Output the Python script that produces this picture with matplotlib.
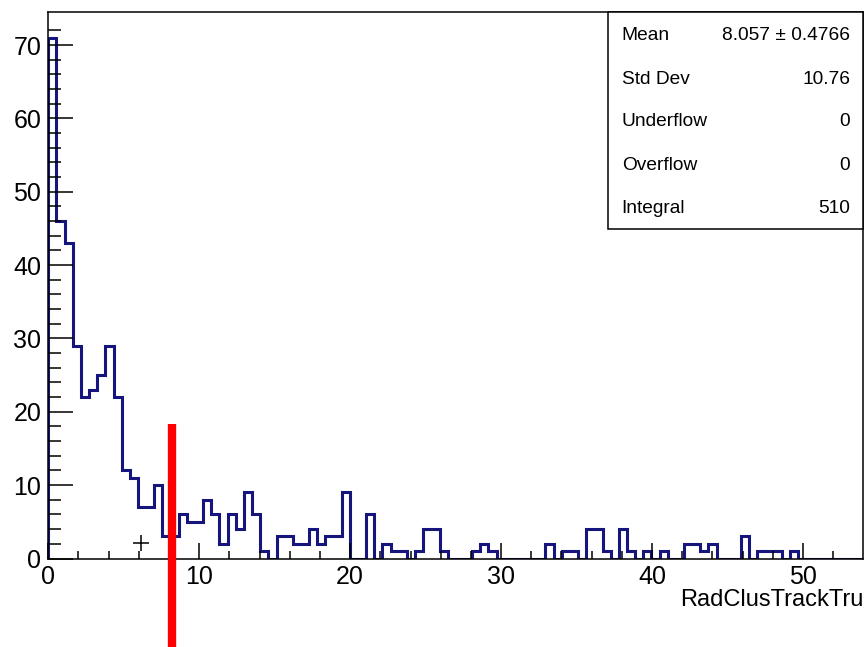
import matplotlib
matplotlib.use("Agg")
import matplotlib.pyplot as plt
import numpy as np
from matplotlib.patches import Rectangle

# histogram contents (100 bins between 0 and 54)
counts = [71, 46, 43, 29, 22, 23, 25, 29, 22, 12,
          11, 7, 7, 10, 3, 3, 6, 5, 5, 8,
          6, 2, 6, 4, 9, 6, 1, 0, 3, 3,
          2, 2, 4, 2, 3, 3, 9, 0, 0, 6,
          0, 2, 1, 1, 0, 1, 4, 4, 1, 0,
          0, 0, 1, 2, 1, 0, 0, 0, 0, 0,
          0, 2, 0, 1, 1, 0, 4, 4, 1, 0,
          4, 1, 0, 1, 0, 1, 0, 0, 2, 2,
          1, 2, 0, 0, 0, 3, 0, 1, 1, 1,
          0, 1, 0, 0, 0, 0, 0, 0, 0, 0]
x_min, x_max = 0.0, 54.0
n_bins = 100
x_title = "RadClusTrackTru"

stat_names = ["Mean", "Std Dev", "Underflow", "Overflow", "Integral"]
stat_values = ["8.057 \u00b1 0.4766", "10.76", "0", "0", "510"]

# extra marks drawn on top of the histogram
marker_x, marker_y = 6.14, 2.1
red_x = 8.18
red_top = 18.3

plt.rcParams["font.family"] = ["Liberation Sans", "DejaVu Sans"]

W, H = 865, 647
fig = plt.figure(figsize=(W / 100, H / 100), dpi=100)
ax_l, ax_r, ax_t, ax_b = 48.3, 863.3, 11.7, 558.5
ax = fig.add_axes([ax_l / W, 1 - ax_b / H, (ax_r - ax_l) / W, (ax_b - ax_t) / H])

edges = np.linspace(x_min, x_max, n_bins + 1)
ax.stairs(counts, edges, color="#15157d", linewidth=2.2, baseline=0)

ax.plot([marker_x], [marker_y], marker="+", color="black", markersize=12,
        markeredgewidth=1.1, linestyle="none")

ax.plot([red_x, red_x], [-13, red_top], color="#ff0000", linewidth=6,
        solid_capstyle="butt", clip_on=False, zorder=5)

ax.set_xlim(x_min, x_max)
ax.set_ylim(0, max(counts) * 1.05)

ax.set_xticks(np.arange(0, 51, 10))
ax.set_xticks(np.arange(0, 54, 2), minor=True)
ax.set_yticks(np.arange(0, 71, 10))
ax.set_yticks(np.arange(0, 74, 2), minor=True)

ax.tick_params(axis="both", which="both", direction="in", width=1.1,
               color="black", labelsize=18)
ax.tick_params(axis="x", which="major", length=11.5, pad=5)
ax.tick_params(axis="x", which="minor", length=5.5)
ax.tick_params(axis="y", which="major", length=18, pad=5)
ax.tick_params(axis="y", which="minor", length=9)
ax.tick_params(top=False, right=False, which="both")

for s in ax.spines.values():
    s.set_linewidth(1.1)

fig.text(ax_r / W, 1 - 600 / H, x_title, ha="right", va="center", fontsize=17)

# stats box in the upper right corner
box_l, box_b = 608.3, 229.3
ax.add_patch(Rectangle(((box_l - ax_l) / (ax_r - ax_l), (ax_b - box_b) / (ax_b - ax_t)),
                       (ax_r - box_l) / (ax_r - ax_l), (box_b - ax_t) / (ax_b - ax_t),
                       transform=ax.transAxes, facecolor="white", edgecolor="black",
                       linewidth=1.1, zorder=6, clip_on=False))
row_y = [35, 79, 122, 166, 208.5]
for name, val, y in zip(stat_names, stat_values, row_y):
    fig.text(621.7 / W, 1 - y / H, name, ha="left", va="center", fontsize=13.8, zorder=7)
    fig.text(850 / W, 1 - y / H, val, ha="right", va="center", fontsize=13.8, zorder=7)

fig.savefig("out.png", dpi=100)
